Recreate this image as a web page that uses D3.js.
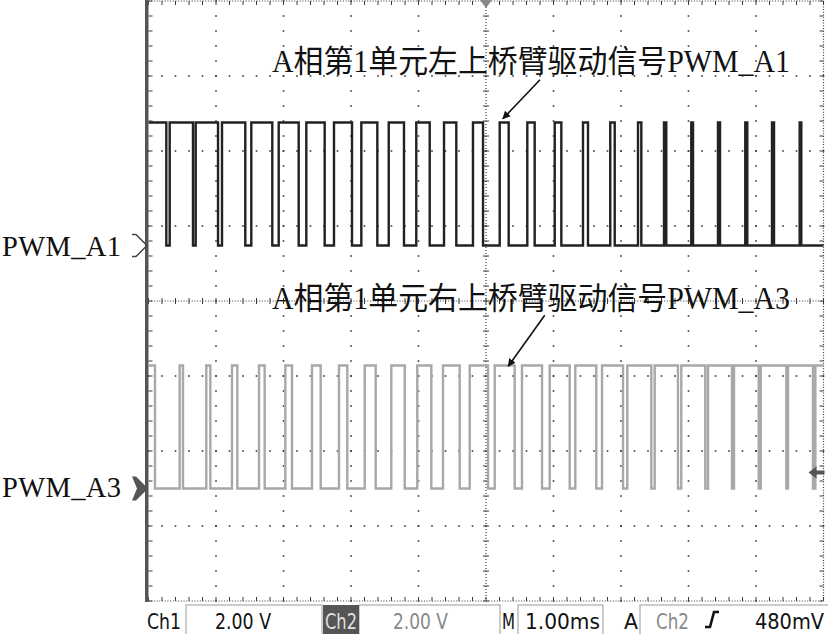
<!DOCTYPE html>
<html><head><meta charset="utf-8">
<script src="https://cdn.jsdelivr.net/npm/d3@7"></script>
<style>body{margin:0;background:#fff}svg{display:block}</style>
</head><body><svg id="c" width="828" height="634"></svg>
<script>
// ---- data ----
const timeDomainMs = [0, 10];          // 1.00 ms/div, 10 divisions
const divDomain = [-4, 4];             // 8 vertical divisions
const voltsPerDiv = 2.0;
const highLevelV = 3.28;
const ch1OffsetDiv = 0.74;
const ch2OffsetDiv = -2.50;
const triggerLevelV = 0.48;
const triggerTimeMs = 5.0;
// Ch1 (PWM_A1): idle high, low intervals [fall, rise] in ms
const ch1LowPulsesMs = [
  [0.264,0.314],[0.659,0.699],[1.030,1.089],[1.434,1.523],[1.834,1.929],
  [2.225,2.338],[2.610,2.748],[3.015,3.153],[3.390,3.559],[3.785,3.967],
  [4.166,4.378],[4.560,4.807],[4.956,5.203],[5.336,5.612],[5.721,6.018],
  [6.116,6.437],[6.511,6.841],[6.907,7.252],[7.301,7.637],[7.671,8.041],
  [8.067,8.437],[8.467,8.841],[8.871,9.237],[9.267,9.647],[9.671,10.0]
];
// Ch2 (PWM_A3): idle low, high intervals [rise, fall] in ms
const ch2HighPulsesMs = [
  [0.000,0.096],[0.462,0.511],[0.856,0.916],[1.237,1.316],[1.637,1.721],
  [2.027,2.126],[2.422,2.551],[2.822,2.945],[3.203,3.366],[3.597,3.796],
  [3.982,4.190],[4.363,4.610],[4.759,5.030],[5.129,5.425],[5.533,5.830],
  [5.944,6.240],[6.323,6.634],[6.719,7.030],[7.093,7.449],[7.499,7.844],
  [7.893,8.249],[8.289,8.644],[8.674,9.040],[9.070,9.449],[9.474,9.844],
  [9.879,10.0]
];
const titleCh1 = "A相第1单元左上桥臂驱动信号PWM_A1";
const titleCh2 = "A相第1单元右上桥臂驱动信号PWM_A3";
const labelCh1 = "PWM_A1";
const labelCh2 = "PWM_A3";
// annotation anchors [timeMs, div]
const title1Pos = [1.83, 3.05], title2Pos = [1.83, -0.11];
const arrow1 = {from:[5.80, 2.95], to:[5.25, 2.43]};
const arrow2 = {from:[5.87, -0.19], to:[5.33, -0.87]};
const statusCh1 = "Ch1", statusCh1Scale = "2.00 V";
const statusCh2 = "Ch2", statusCh2Scale = "2.00 V";
const statusTimeLabel = "M", statusTime = "1.00ms";
const statusTrigLabel = "A", statusTrigSrc = "Ch2", statusTrigLevel = "480mV";

// ---- drawing ----
const svg = d3.select("#c");
const x = d3.scaleLinear().domain(timeDomainMs).range([148.5, 823.5]);
const y = d3.scaleLinear().domain(divDomain).range([601, 1]);
const vToDiv = (v, off) => v / voltsPerDiv + off;

const gGrid = svg.append("g");
const dotCol = "#3a3a3a";
const xMajors = d3.range(1, 10).filter(d => d !== 5);
const yMajors = d3.range(-3, 4).filter(d => d !== 0);
const ySub = d3.range(0, 41).map(k => -4 + k / 5);
const xSub = d3.range(0, 51).map(k => k / 5);
xMajors.forEach(t => {
  gGrid.selectAll(null).data(ySub).join("rect")
    .attr("x", x(t) - 0.8).attr("y", d => y(d) - 0.8).attr("width", 1.6).attr("height", 1.6).attr("fill", dotCol);
});
yMajors.forEach(dv => {
  gGrid.selectAll(null).data(xSub).join("rect")
    .attr("x", d => x(d) - 0.8).attr("y", y(dv) - 0.8).attr("width", 1.6).attr("height", 1.6).attr("fill", dotCol);
});
gGrid.append("line").attr("x1", x(0)).attr("x2", x(10)).attr("y1", y(0)).attr("y2", y(0))
  .attr("stroke", dotCol).attr("stroke-width", 1.2).attr("stroke-dasharray", "1,1.7");
gGrid.append("line").attr("y1", y(4)).attr("y2", y(-4)).attr("x1", x(5)).attr("x2", x(5))
  .attr("stroke", dotCol).attr("stroke-width", 1.2).attr("stroke-dasharray", "1,2");
gGrid.selectAll(null).data(xSub).join("line")
  .attr("x1", d => x(d)).attr("x2", d => x(d)).attr("y1", y(0) - 3).attr("y2", y(0) + 3)
  .attr("stroke", dotCol).attr("stroke-width", 1);
gGrid.selectAll(null).data(ySub).join("line")
  .attr("y1", d => y(d)).attr("y2", d => y(d)).attr("x1", x(5) - 3).attr("x2", x(5) + 3)
  .attr("stroke", dotCol).attr("stroke-width", 1);
gGrid.append("line").attr("x1", x(0)).attr("x2", x(10)).attr("y1", y(4)).attr("y2", y(4))
  .attr("stroke", dotCol).attr("stroke-width", 1.2).attr("stroke-dasharray", "1,1.7");
gGrid.append("line").attr("x1", x(0)).attr("x2", x(10)).attr("y1", y(-4)).attr("y2", y(-4))
  .attr("stroke", dotCol).attr("stroke-width", 1.2).attr("stroke-dasharray", "1,1.7");
gGrid.append("line").attr("x1", x(10)).attr("x2", x(10)).attr("y1", y(4)).attr("y2", y(-4))
  .attr("stroke", dotCol).attr("stroke-width", 1.2).attr("stroke-dasharray", "1,1.7");
gGrid.selectAll(null).data(xSub).join("line")
  .attr("x1", d => x(d)).attr("x2", d => x(d)).attr("y1", y(4)).attr("y2", y(4) + 4)
  .attr("stroke", dotCol).attr("stroke-width", 1);
gGrid.selectAll(null).data(xSub).join("line")
  .attr("x1", d => x(d)).attr("x2", d => x(d)).attr("y1", y(-4)).attr("y2", y(-4) - 4)
  .attr("stroke", dotCol).attr("stroke-width", 1);
gGrid.selectAll(null).data(ySub).join("line")
  .attr("y1", d => y(d)).attr("y2", d => y(d)).attr("x1", x(10)).attr("x2", x(10) - 4)
  .attr("stroke", dotCol).attr("stroke-width", 1);
gGrid.selectAll(null).data(ySub).join("line")
  .attr("y1", d => y(d)).attr("y2", d => y(d)).attr("x1", x(0)).attr("x2", x(0) + 4)
  .attr("stroke", dotCol).attr("stroke-width", 1);
gGrid.append("rect").attr("x", x(0) - 3.5).attr("y", 0).attr("width", 3.5).attr("height", y(-4) + 1).attr("fill", "#555");

// traces
function buildTrace(pulses, idleHigh) {
  const base = idleHigh ? highLevelV : 0, act = idleHigh ? 0 : highLevelV;
  const pts = [];
  if (pulses[0][0] > timeDomainMs[0]) pts.push([timeDomainMs[0], base]);
  pulses.forEach(([a, b]) => {
    if (a > timeDomainMs[0]) pts.push([a, base]);
    pts.push([a, act]);
    pts.push([b, act]);
    if (b < timeDomainMs[1]) pts.push([b, base]);
  });
  if (pts[pts.length - 1][0] < timeDomainMs[1]) pts.push([timeDomainMs[1], base]);
  return pts;
}
const line = off => d3.line().x(d => x(d[0])).y(d => y(vToDiv(d[1], off)));
svg.append("path").attr("d", line(ch2OffsetDiv)(buildTrace(ch2HighPulsesMs, false)))
  .attr("fill", "none").attr("stroke", "#a8a8a8").attr("stroke-width", 2.4);
svg.append("path").attr("d", line(ch1OffsetDiv)(buildTrace(ch1LowPulsesMs, true)))
  .attr("fill", "none").attr("stroke", "#222").attr("stroke-width", 2.4);

// markers
const m1 = y(ch1OffsetDiv), m2 = y(ch2OffsetDiv), mx = x(0) - 1.5;
svg.append("path").attr("d", `M${mx-15},${m1-11}h4l11,11l-11,11h-4`)
  .attr("fill", "none").attr("stroke", "#444").attr("stroke-width", 1.5);
svg.append("path").attr("d", `M${mx-15},${m2-12}h4l12,12l-12,12h-4l5,-12z`)
  .attr("fill", "#555");
svg.append("path").attr("d", `M${x(triggerTimeMs)-6},0h12l-6,8z`).attr("fill", "#888");
const tl = y(vToDiv(triggerLevelV, ch2OffsetDiv));
svg.append("path").attr("d", `M${x(10)-15},${tl+2}l8,-6v4h8v4h-8v4z`).attr("fill", "#555");

// annotations
const serif = "'Liberation Serif','Times New Roman','Noto Sans CJK SC',serif";
svg.append("text").attr("x", x(title1Pos[0])).attr("y", y(title1Pos[1])).text(titleCh1)
  .attr("font-family", serif).attr("font-size", 31).attr("textLength", 518).attr("lengthAdjust", "spacingAndGlyphs").attr("fill", "#111");
svg.append("text").attr("x", x(title2Pos[0])).attr("y", y(title2Pos[1])).text(titleCh2)
  .attr("font-family", serif).attr("font-size", 31).attr("textLength", 518).attr("lengthAdjust", "spacingAndGlyphs").attr("fill", "#111");
svg.append("text").attr("x", 2).attr("y", m1 + 10).text(labelCh1)
  .attr("font-family", serif).attr("font-size", 28.5).attr("textLength", 119).attr("fill", "#111");
svg.append("text").attr("x", 2).attr("y", m2 + 8).text(labelCh2)
  .attr("font-family", serif).attr("font-size", 28.5).attr("textLength", 119).attr("fill", "#111");
svg.append("defs").append("marker").attr("id", "ah").attr("viewBox", "0 0 10 10")
  .attr("refX", 9).attr("refY", 5).attr("markerWidth", 5).attr("markerHeight", 5).attr("orient", "auto")
  .append("path").attr("d", "M0,0L10,5L0,10z").attr("fill", "#111");
[arrow1, arrow2].forEach(a => {
  svg.append("line").attr("x1", x(a.from[0])).attr("y1", y(a.from[1]))
    .attr("x2", x(a.to[0])).attr("y2", y(a.to[1]))
    .attr("stroke", "#111").attr("stroke-width", 1.6).attr("marker-end", "url(#ah)");
});

// status bar
const sans = "'DejaVu Sans Condensed','Liberation Sans Narrow','DejaVu Sans',sans-serif";
const sb = svg.append("g").attr("font-family", sans).attr("font-size", 22);
const base = 629;
const boxes = [[186, 136], [359, 141], [518, 85], [640, 192]];
boxes.forEach(([bx, bw]) => sb.append("rect").attr("x", bx).attr("y", 605).attr("width", bw).attr("height", 40)
  .attr("fill", "none").attr("stroke", "#999").attr("stroke-width", 1));
sb.append("rect").attr("x", 323).attr("y", 605).attr("width", 36).attr("height", 30).attr("fill", "#555");
const txt = (s, tx, w, col) => sb.append("text").attr("x", tx).attr("y", base).text(s)
  .attr("textLength", w).attr("lengthAdjust", "spacingAndGlyphs").attr("fill", col);
txt(statusCh1, 147, 34, "#111");
txt(statusCh1Scale, 215, 56, "#111");
txt(statusCh2, 325, 32, "#e0e0e0");
txt(statusCh2Scale, 393, 55, "#888");
txt(statusTimeLabel, 502, 13, "#111");
txt(statusTime, 525, 75, "#111");
txt(statusTrigLabel, 624, 14, "#111");
txt(statusTrigSrc, 656, 33, "#888");
txt(statusTrigLevel, 755, 69, "#111");
sb.append("path").attr("d", "M705,627h5l4,-15h5").attr("fill", "none").attr("stroke", "#111").attr("stroke-width", 2.6);
</script></body></html>
